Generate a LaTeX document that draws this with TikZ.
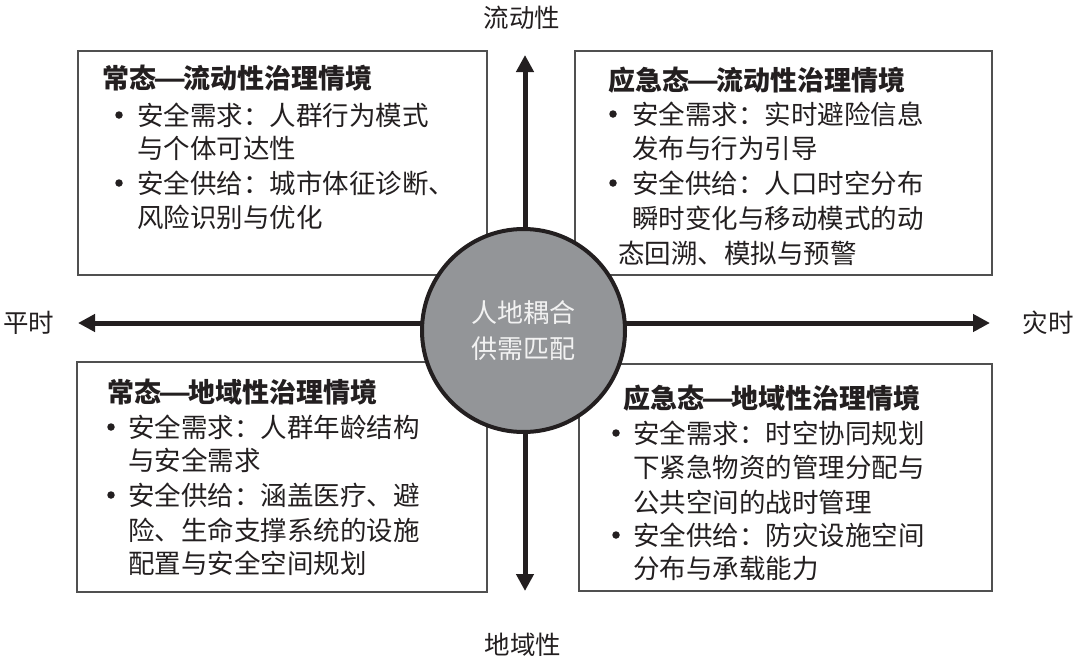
\documentclass[tikz,border=0pt]{standalone}
\usepackage{fontspec}
\usepackage{graphicx}
\newfontfamily\cjk{Noto Sans CJK SC}
\usetikzlibrary{arrows.meta}
\definecolor{ink}{HTML}{231F20}
\definecolor{boxline}{HTML}{505050}
\definecolor{discfill}{HTML}{939598}
\definecolor{disctext}{HTML}{F2F2F2}
\newcommand{\fwdash}{\makebox[1em][c]{\scalebox{1.35}[1]{—}}}
\tikzset{
  quadbox/.style={draw=boxline, line width=1.3pt},
  titletext/.style={anchor=west, inner sep=0pt, text=ink, font=\cjk\bfseries\fontsize{27}{30}\selectfont},
  bodytext/.style={anchor=west, inner sep=0pt, text=ink, font=\cjk\fontsize{26.5}{30}\selectfont},
  bulletdot/.style={circle, fill=ink, inner sep=0pt, minimum size=7.5pt},
  axislabel/.style={inner sep=0pt, text=ink, font=\cjk\fontsize{25.5}{28}\selectfont},
  axisarrow/.style={draw=ink, line width=5pt, -{Triangle[width=17pt,length=17pt]}},
  disc/.style={circle, draw=ink, line width=4pt, fill=discfill, minimum size=203pt, inner sep=0pt,
    text=disctext, align=center, font=\cjk\fontsize{26}{36}\selectfont}
}
\begin{document}
\begin{tikzpicture}[x=1pt,y=-1pt]
\fill[white] (0,0) rectangle (1080,662);
\useasboundingbox (0,0) rectangle (1080,662);

% quadrant boxes
\draw[quadbox] (78,51) rectangle (487,275);
\draw[quadbox] (575,51) rectangle (992,275);
\draw[quadbox] (77,362) rectangle (487,592);
\draw[quadbox] (579,364) rectangle (992,591);

% axes
\coordinate (o) at (525,323);
\coordinate (ntip) at (525,55);
\coordinate (stip) at (525,591);
\coordinate (wtip) at (78,323);
\coordinate (etip) at (990,323);
\draw[axisarrow] (o) -- (ntip);
\draw[axisarrow] (o) -- (stip);
\draw[axisarrow] (o) -- (wtip);
\draw[axisarrow] (o) -- (etip);

% centre disc
\node[disc] (c) at (523.5,330.5) {人地耦合\\供需匹配};

% axis labels
\node[axislabel] (lt) at (522,18) {流动性};
\node[axislabel] (lb) at (523,645) {地域性};
\node[axislabel] (ll) at (29,323) {平时};
\node[axislabel] (lr) at (1048,323) {灾时};

% top-left
\node[titletext] (tl0) at (102,78) {常态\fwdash 流动性治理情境};
\node[bulletdot] (tlb1) at (119,115) {};
\node[bodytext] (tl1) at (137,115) {安全需求：人群行为模式};
\node[bodytext] (tl2) at (137,148) {与个体可达性};
\node[bulletdot] (tlb2) at (119,183) {};
\node[bodytext] (tl3) at (137,183) {安全供给：城市体征诊断、};
\node[bodytext] (tl4) at (137,217) {风险识别与优化};

% top-right
\node[titletext] (tr0) at (608,80) {应急态\fwdash 流动性治理情境};
\node[bulletdot] (trb1) at (613,114) {};
\node[bodytext] (tr1) at (632,114) {安全需求：实时避险信息};
\node[bodytext] (tr2) at (632,148) {发布与行为引导};
\node[bulletdot] (trb2) at (613,183) {};
\node[bodytext] (tr3) at (632,183) {安全供给：人口时空分布};
\node[bodytext] (tr4) at (632,218) {瞬时变化与移动模式的动};
\node[bodytext] (tr5) at (618,253) {态回溯、模拟与预警};

% bottom-left
\node[titletext] (bl0) at (107,392) {常态\fwdash 地域性治理情境};
\node[bulletdot] (blb1) at (111,427) {};
\node[bodytext] (bl1) at (128,427) {安全需求：人群年龄结构};
\node[bodytext] (bl2) at (128,460) {与安全需求};
\node[bulletdot] (blb2) at (111,495) {};
\node[bodytext] (bl3) at (128,495) {安全供给：涵盖医疗、避};
\node[bodytext] (bl4) at (128,530) {险、生命支撑系统的设施};
\node[bodytext] (bl5) at (128,563) {配置与安全空间规划};

% bottom-right
\node[titletext] (br0) at (623,398) {应急态\fwdash 地域性治理情境};
\node[bulletdot] (brb1) at (616,433) {};
\node[bodytext] (br1) at (633,433) {安全需求：时空协同规划};
\node[bodytext] (br2) at (633,467) {下紧急物资的管理分配与};
\node[bodytext] (br3) at (633,502) {公共空间的战时管理};
\node[bulletdot] (brb2) at (616,535) {};
\node[bodytext] (br4) at (633,535) {安全供给：防灾设施空间};
\node[bodytext] (br5) at (633,568) {分布与承载能力};
\end{tikzpicture}
\end{document}
